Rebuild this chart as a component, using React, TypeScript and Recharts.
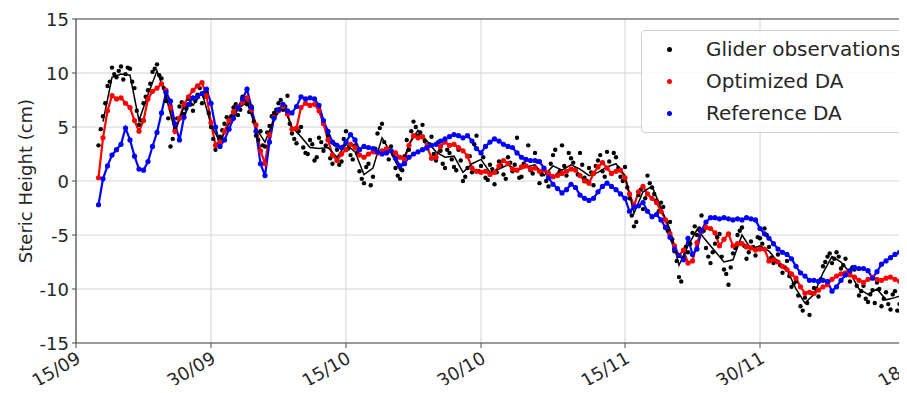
import React from 'react';
import { ComposedChart, Line, Scatter, XAxis, YAxis, CartesianGrid, ReferenceLine } from 'recharts';

// sampling of the series (days since 15/09)
const SERIES_START = 2.5;
const SERIES_STEP = 0.5;
const OBS_B_START = 2.75;
const MEAN_START = 3;
const MEAN_STEP = 1;

const xTickDays = [0, 15, 30, 45, 61, 76, 94];
const xTickLabels = ['15/09', '30/09', '15/10', '30/10', '15/11', '30/11', '18/12'];
const yTicks = [-15, -10, -5, 0, 5, 10, 15];

const optimizedDA = [
  0.3, 4.0, 6.5, 7.9, 7.6, 7.7, 7.2, 6.8, 5.6, 4.6,
  5.6, 7.6, 8.3, 8.6, 9.0, 8.4, 6.8, 4.6, 5.8, 7.1,
  7.8, 8.4, 8.8, 9.1, 7.9, 5.4, 3.3, 3.6, 4.6, 5.6,
  6.4, 6.9, 7.3, 7.7, 6.6, 5.2, 2.8, 1.6, 4.3, 5.9,
  6.5, 6.9, 6.2, 4.8, 4.9, 6.8, 7.2, 7.0, 7.1, 6.5,
  5.3, 3.8, 2.4, 1.9, 2.5, 2.9, 3.4, 3.1, 2.4, 2.2,
  2.5, 2.7, 2.6, 2.8, 3.0, 2.8, 2.6, 2.2, 2.0, 3.3,
  4.2, 4.0, 4.1, 3.2, 2.1, 2.2, 3.2, 3.6, 3.3, 3.4,
  3.1, 2.8, 2.3, 1.2, 0.9, 0.8, 0.9, 0.6, 0.8, 1.4,
  1.9, 1.6, 1.1, 1.0, 1.3, 1.4, 1.1, 1.2, 0.9, 1.0,
  0.7, 0.4, 0.5, 0.7, 0.9, 1.1, 1.0, 0.5, 0.0, -0.2,
  0.7, 1.3, 1.7, 1.2, 0.7, 0.9, 1.0, 0.3, -1.2, -2.3,
  -1.0, -0.5, -1.2, -1.6, -2.0, -2.8, -3.6, -4.9, -6.0, -6.9,
  -6.4, -7.6, -7.4, -5.7, -4.7, -4.3, -4.4, -4.8, -6.0, -5.4,
  -4.9, -6.0, -5.8, -5.8, -6.1, -6.2, -6.4, -6.3, -6.3, -7.4,
  -7.3, -7.5, -7.9, -8.2, -8.6, -9.0, -9.8, -10.4, -10.3, -10.4,
  -10.1, -9.8, -9.6, -9.1, -8.8, -8.6, -8.5, -8.7, -8.9, -9.2,
  -9.4, -9.1, -8.9, -9.1, -9.2, -9.0, -8.9, -9.1, -9.3, -9.4,
  -9.3, -9.5,
];

const referenceDA = [
  -2.2, 0.2, 1.4, 2.4, 2.9, 3.4, 4.9, 3.8, 2.3, 1.1,
  1.0, 1.8, 3.2, 4.5, 6.3, 8.2, 7.4, 5.3, 3.8, 5.9,
  7.1, 7.7, 7.8, 8.1, 8.5, 7.2, 5.0, 3.2, 3.8, 4.8,
  5.8, 6.8, 7.6, 8.5, 6.8, 4.6, 1.6, 0.5, 3.6, 5.8,
  6.6, 7.1, 6.5, 6.3, 6.9, 7.8, 7.6, 7.7, 7.6, 7.0,
  5.6, 4.6, 3.6, 3.3, 3.1, 3.6, 4.3, 3.8, 2.9, 3.2,
  3.1, 3.0, 2.7, 2.5, 2.6, 2.8, 2.1, 1.4, 1.6, 2.2,
  2.5, 2.7, 2.9, 3.1, 3.3, 3.4, 3.7, 3.9, 4.1, 4.3,
  4.2, 4.0, 4.2, 3.7, 3.0, 2.6, 3.2, 3.6, 3.9, 3.7,
  3.4, 3.2, 3.1, 2.6, 2.2, 2.0, 1.9, 1.9, 1.8, 1.2,
  0.3, -0.3, -0.7, -1.1, -0.8, -0.3, -0.6, -1.3, -1.6, -1.8,
  -1.6, -1.0, -0.5, -0.2, -0.5, -0.8, -1.2, -1.6, -2.8, -2.4,
  -2.3, -2.0, -2.8, -3.3, -3.1, -3.6, -4.3, -5.2, -6.3, -6.9,
  -7.3, -5.3, -6.8, -6.3, -4.6, -3.8, -3.4, -3.4, -3.5, -3.4,
  -3.5, -3.6, -3.5, -3.6, -3.4, -3.5, -3.6, -4.4, -4.9, -5.3,
  -5.8, -6.3, -6.6, -6.8, -7.2, -7.9, -8.5, -8.8, -9.2, -9.2,
  -9.3, -9.2, -9.3, -10.2, -9.8, -9.2, -8.7, -8.3, -8.0, -8.1,
  -8.1, -8.3, -9.0, -8.4, -7.7, -7.4, -7.1, -6.8, -6.6, -6.2,
  -5.9, -5.6,
];

const gliderObservations = [
  3.3, 6.0, 8.8, 10.5, 9.6, 10.6, 9.9, 10.4, 8.6, 5.2,
  7.2, 8.4, 10.1, 10.8, 9.5, 7.4, 3.2, 4.8, 6.9, 6.2,
  7.6, 6.5, 8.0, 7.2, 8.2, 5.0, 2.9, 4.1, 5.3, 4.8,
  6.8, 6.1, 7.8, 7.1, 6.9, 4.2, 4.6, 3.2, 5.1, 6.3,
  7.2, 6.6, 7.9, 4.4, 3.5, 5.0, 2.6, 3.8, 1.9, 4.0,
  2.8, 4.2, 1.6, 2.9, 1.8, 4.6, 2.4, 3.3, 0.9, -0.2,
  1.6, 0.4, 4.4, 5.3, 2.8, 3.2, 1.2, 0.2, 2.3, 2.9,
  5.5, 4.2, 5.2, 3.0, 4.1, 1.9, 2.8, 1.2, 2.6, 1.3,
  2.9, 0.0, 1.2, 0.8, 4.2, 1.4, 0.3, 1.5, -0.3, 1.8,
  0.6, 2.2, 0.9, 4.0, 0.4, 2.0, 1.0, 2.6, -0.2, 1.1,
  -0.5, 2.4, 0.6, 3.3, 0.5, 2.1, 1.1, 2.6, 0.3, 1.2,
  -0.4, 1.9, 0.9, 2.7, 0.7, 2.2, 0.4, 1.3, -1.6, -4.2,
  -1.3, -2.6, 0.5, -0.6, -1.8, -2.0, -4.3, -3.8, -6.5, -8.9,
  -7.1, -6.6, -4.8, -5.0, -3.2, -6.2, -7.6, -5.8, -4.9, -8.2,
  -9.6, -6.7, -5.0, -4.3, -7.2, -5.6, -6.9, -5.3, -4.4, -6.1,
  -7.6, -6.8, -8.5, -7.4, -9.8, -9.3, -11.6, -10.8, -12.4, -9.9,
  -10.7, -7.9, -7.0, -7.6, -6.6, -8.1, -7.2, -9.3, -8.2, -10.6,
  -9.7, -11.2, -10.1, -9.4, -11.6, -10.3, -11.9, -10.2, -11.4, -9.8,
  -12.0, -10.6,
];

const gliderObservationsB = [
  4.8, 7.2, 9.2, 9.9, 10.2, 9.4, 10.5, 9.2, 6.5, 5.6,
  7.8, 9.0, 10.4, 9.8, 8.6, 5.8, 3.9, 5.8, 7.3, 6.7,
  7.1, 7.4, 8.6, 7.8, 6.3, 3.9, 3.4, 4.7, 5.9, 6.0,
  7.1, 6.6, 7.5, 6.4, 5.5, 3.8, 3.3, 4.5, 6.0, 6.6,
  7.5, 6.9, 5.3, 3.9, 4.6, 3.1, 2.5, 3.4, 2.2, 3.6,
  3.3, 2.1, 3.4, 1.5, 3.9, 3.0, 2.0, 2.6, 0.2, 1.3,
  -0.4, 3.0, 4.9, 3.6, 2.0, 2.5, 0.5, 1.0, 3.8, 4.6,
  5.0, 4.5, 3.7, 3.4, 2.5, 3.6, 1.6, 2.9, 2.0, 1.0,
  1.9, 0.4, 2.3, 3.4, 0.9, 2.2, 0.1, 1.1, 0.8, 1.4,
  0.2, 1.7, 1.5, 0.3, 1.6, 3.3, 0.7, 1.8, 0.6, 0.0,
  1.6, 2.9, 0.9, 1.4, 2.6, 1.7, 0.6, 1.5, 0.0, 0.8,
  1.4, 2.4, 0.4, 1.8, 2.6, 1.2, 0.0, -0.6, -3.2, -3.8,
  -0.8, -1.6, -0.2, -1.2, -2.8, -2.4, -4.6, -5.4, -7.4, -9.3,
  -6.1, -5.8, -4.2, -4.4, -4.6, -7.0, -6.6, -5.2, -7.0, -8.6,
  -8.0, -6.2, -4.6, -6.0, -6.6, -6.1, -5.2, -5.8, -5.0, -7.1,
  -7.4, -7.8, -8.0, -8.8, -9.5, -10.6, -12.0, -11.3, -10.4, -10.0,
  -9.1, -7.5, -6.7, -7.2, -7.0, -7.8, -8.6, -8.0, -9.7, -10.2,
  -10.9, -10.5, -11.3, -10.0, -10.9, -11.4, -10.5, -12.0, -10.9, -11.2,
  -11.7,
];

const gliderMean = [
  5.5, 9.6, 9.9, 9.8, 5.6, 8.0, 10.2, 7.8, 4.6, 6.9,
  7.0, 8.2, 5.2, 3.6, 5.3, 6.7, 7.3, 4.9, 3.6, 5.7,
  7.0, 5.0, 4.1, 3.1, 3.0, 3.1, 2.2, 3.4, 2.7, 0.6,
  1.2, 4.0, 2.6, 1.0, 3.4, 4.7, 3.7, 2.7, 2.2, 2.3,
  0.8, 1.6, 2.0, 0.8, 1.1, 1.5, 1.0, 1.3, 1.5, 0.5,
  1.4, 1.0, 1.5, 1.1, 0.5, 0.8, 1.3, 1.6, 0.5, -3.0,
  -1.0, -0.5, -2.5, -4.5, -7.8, -6.0, -4.5, -5.5, -6.5, -7.5,
  -7.3, -5.0, -6.3, -6.0, -6.5, -7.5, -8.2, -10.0, -11.3, -10.5,
  -8.5, -7.0, -7.5, -8.5, -10.0, -10.5, -10.0, -11.0, -10.8, -10.5,
  -11.0,
];

const toPoints = (values: number[], start: number, step: number) =>
  values.map((v, i) => ({ x: start + i * step, y: v }));

const optimizedData = toPoints(optimizedDA, SERIES_START, SERIES_STEP);
const referenceData = toPoints(referenceDA, SERIES_START, SERIES_STEP);
const obsData = toPoints(gliderObservations, SERIES_START, SERIES_STEP).concat(
  toPoints(gliderObservationsB, OBS_B_START, SERIES_STEP)
);
const meanData = toPoints(gliderMean, MEAN_START, MEAN_STEP);

const FONT = "'DejaVu Sans', sans-serif";
const TEXT = '#262626';
const SPINE = '#4d4d4d';

const XTick = (props: any) => {
  const { x, y, payload } = props;
  const idx = xTickDays.indexOf(payload.value);
  const label = idx >= 0 ? xTickLabels[idx] : '';
  const ax = x - 1;
  const ay = y;
  return (
    <text
      x={ax}
      y={ay}
      transform={`rotate(-30, ${ax}, ${ay})`}
      textAnchor="end"
      dominantBaseline="hanging"
      fontSize={18}
      fontFamily={FONT}
      fill={TEXT}
    >
      {label}
    </text>
  );
};

const YTick = (props: any) => {
  const { x, y, payload } = props;
  return (
    <text x={x} y={y} textAnchor="end" dominantBaseline="central" fontSize={18} fontFamily={FONT} fill={TEXT}>
      {String(payload.value)}
    </text>
  );
};

const dot = (color: string, r: number) => (p: any) =>
  p.cx == null || p.cy == null ? <g /> : <circle cx={p.cx} cy={p.cy} r={r} fill={color} stroke="none" />;

const legendItems = [
  { label: 'Glider observations', color: '#000000' },
  { label: 'Optimized DA', color: '#ff0000' },
  { label: 'Reference DA', color: '#0000ff' },
];

export default function App() {
  return (
    <div style={{ position: 'relative', width: 899, height: 385, marginBottom: -8, overflow: 'hidden', fontFamily: FONT }}>
      <ComposedChart width={930} height={385} margin={{ top: 11, right: 16, left: 0, bottom: 0 }}>
        <CartesianGrid stroke="#d4d4d4" strokeWidth={1} />
        <XAxis
          type="number"
          dataKey="x"
          domain={[0, 94]}
          ticks={xTickDays}
          interval={0}
          allowDataOverflow
          height={50}
          tickSize={5}
          tickMargin={2}
          tick={<XTick />}
          axisLine={{ stroke: SPINE, strokeWidth: 1.2 }}
          tickLine={{ stroke: SPINE }}
        />
        <YAxis
          type="number"
          domain={[-15, 15]}
          ticks={yTicks}
          interval={0}
          allowDataOverflow
          width={68}
          tickSize={4}
          tickMargin={3}
          tick={<YTick />}
          axisLine={{ stroke: SPINE, strokeWidth: 1.2 }}
          tickLine={{ stroke: SPINE }}
          label={{
            content: () => (
              <text
                x={17}
                y={173}
                transform="rotate(-90, 17, 173)"
                textAnchor="middle"
                dominantBaseline="central"
                fontSize={18}
                fontFamily={FONT}
                fill={TEXT}
              >
                Steric Height (cm)
              </text>
            ),
          }}
        />
        <ReferenceLine y={15} stroke={SPINE} strokeWidth={1.2} />
        <Scatter
          data={obsData}
          dataKey="y"
          fill="#000"
          shape={dot('#000000', 2.2)}
          isAnimationActive={false}
        />
        <Line
          data={optimizedData}
          dataKey="y"
          stroke="#ff0000"
          strokeWidth={2.2}
          dot={dot('#ff0000', 2.6)}
          activeDot={false}
          isAnimationActive={false}
        />
        <Line
          data={referenceData}
          dataKey="y"
          stroke="#0000ff"
          strokeWidth={2.2}
          dot={dot('#0000ff', 2.6)}
          activeDot={false}
          isAnimationActive={false}
        />
        <Line
          data={meanData}
          dataKey="y"
          stroke="#000000"
          strokeWidth={1.5}
          dot={false}
          activeDot={false}
          isAnimationActive={false}
        />
      </ComposedChart>
      <div
        style={{
          position: 'absolute',
          left: 633,
          top: 22,
          width: 290,
          height: 103,
          boxSizing: 'border-box',
          border: '1px solid #d0d0d0',
          borderRadius: 4,
          background: 'rgba(255,255,255,0.85)',
        }}
      >
        {legendItems.map((it, i) => (
          <div
            key={it.label}
            style={{ position: 'absolute', left: 0, top: 2 + i * 32, height: 32, display: 'flex', alignItems: 'center' }}
          >
            <span
              style={{
                position: 'absolute',
                left: 25,
                width: 5,
                height: 5,
                borderRadius: '50%',
                background: it.color,
              }}
            />
            <span style={{ position: 'absolute', left: 64, whiteSpace: 'nowrap', fontSize: 20, color: TEXT, lineHeight: '32px', top: 0 }}>
              {it.label}
            </span>
          </div>
        ))}
      </div>
    </div>
  );
}
